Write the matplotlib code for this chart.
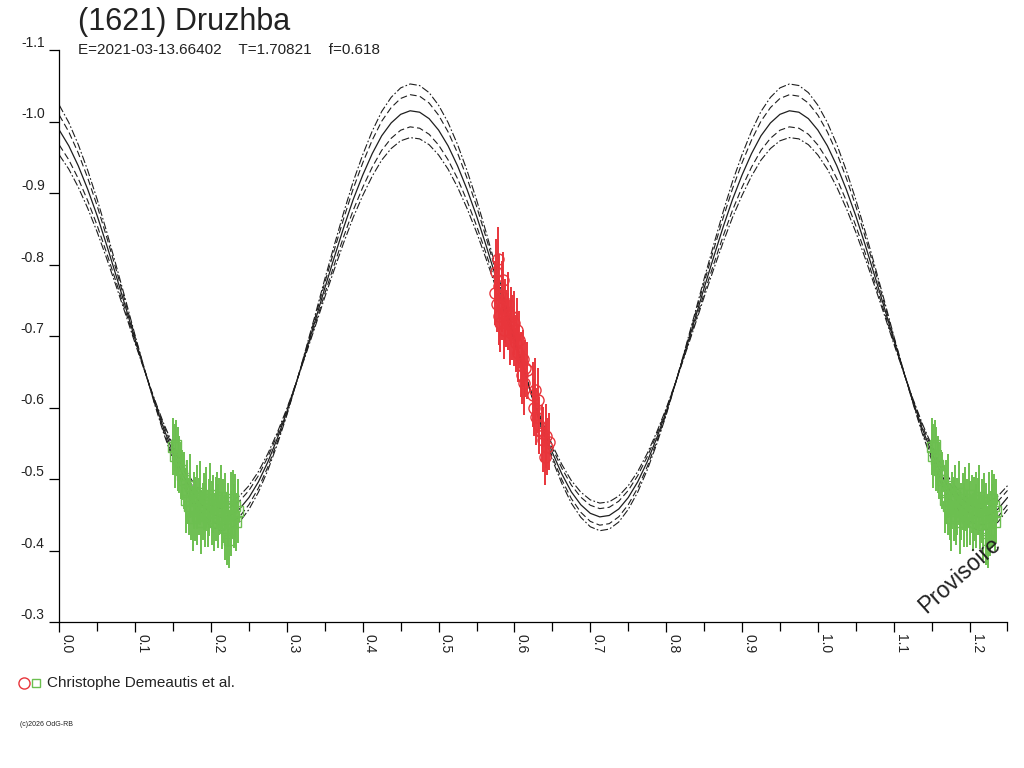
import matplotlib.pyplot as plt
import numpy as np
from matplotlib.lines import Line2D

plt.rcParams['font.family'] = ['Liberation Sans', 'DejaVu Sans']
plt.rcParams['axes.unicode_minus'] = False

# model lightcurve (solid), read every 0.0125 in phase from 0.0 to 1.0
model_phase = np.linspace(0.0, 1.0, 81)
model_mag = [-0.988, -0.966, -0.938, -0.905, -0.868, -0.827, -0.784, -0.740,
             -0.695, -0.652, -0.610, -0.571, -0.537, -0.507, -0.482, -0.464,
             -0.452, -0.447, -0.449, -0.458, -0.474, -0.496, -0.524, -0.557,
             -0.594, -0.635, -0.678, -0.722, -0.767, -0.810, -0.852, -0.891,
             -0.925, -0.955, -0.980, -0.998, -1.010, -1.015, -1.013, -1.004,
             -0.988, -0.966, -0.938, -0.905, -0.868, -0.827, -0.784, -0.740,
             -0.695, -0.652, -0.610, -0.571, -0.537, -0.507, -0.482, -0.464,
             -0.452, -0.447, -0.449, -0.458, -0.474, -0.496, -0.524, -0.557,
             -0.594, -0.635, -0.678, -0.722, -0.767, -0.810, -0.852, -0.891,
             -0.925, -0.955, -0.980, -0.998, -1.010, -1.015, -1.013, -1.004,
             -0.988]
# envelope curves: amplitude scale about a pivot magnitude
env_pivot = -0.64
env_scale = [1.10, 1.06, 0.94, 0.90]
env_style = ['dashdot', 'dashed', 'dashed', 'dashdot']

# green squares
g_phase = [0.150, 0.152, 0.154, 0.156, 0.158, 0.160, 0.162, 0.164, 0.167, 0.169,
           0.171, 0.172, 0.174, 0.176, 0.177, 0.179, 0.181, 0.182, 0.184, 0.186,
           0.187, 0.189, 0.191, 0.192, 0.194, 0.196, 0.197, 0.199, 0.201, 0.203,
           0.204, 0.206, 0.208, 0.209, 0.211, 0.213, 0.214, 0.216, 0.218, 0.219,
           0.221, 0.222, 0.224, 0.226, 0.227, 0.229, 0.230, 0.232, 0.233, 0.235]
g_mag = [-0.545, -0.532, -0.548, -0.528, -0.520, -0.512, -0.505, -0.498, -0.470, -0.482,
         -0.462, -0.490, -0.455, -0.445, -0.470, -0.458, -0.475, -0.448, -0.462, -0.480,
         -0.440, -0.455, -0.468, -0.450, -0.472, -0.445, -0.460, -0.478, -0.452, -0.465,
         -0.440, -0.458, -0.470, -0.448, -0.462, -0.475, -0.442, -0.455, -0.432, -0.468,
         -0.425, -0.450, -0.415, -0.460, -0.438, -0.472, -0.448, -0.462, -0.440, -0.455]
g_err = [0.040, 0.045, 0.035, 0.045, 0.040, 0.040, 0.035, 0.040, 0.045, 0.045,
         0.040, 0.045, 0.040, 0.045, 0.040, 0.045, 0.045, 0.040, 0.040, 0.045,
         0.045, 0.040, 0.040, 0.045, 0.045, 0.040, 0.040, 0.045, 0.045, 0.040,
         0.040, 0.045, 0.040, 0.045, 0.040, 0.045, 0.040, 0.045, 0.045, 0.040,
         0.045, 0.045, 0.040, 0.050, 0.045, 0.040, 0.045, 0.045, 0.040, 0.045]

# red circles
r_phase = [0.574, 0.576, 0.577, 0.578, 0.579, 0.580, 0.581, 0.583, 0.584, 0.585,
           0.586, 0.588, 0.589, 0.591, 0.592, 0.594, 0.595, 0.597, 0.599, 0.600,
           0.602, 0.603, 0.605, 0.606, 0.608, 0.610, 0.611, 0.612, 0.614, 0.616,
           0.624, 0.626, 0.627, 0.629, 0.631, 0.633, 0.636, 0.638, 0.640, 0.642,
           0.643, 0.645]
r_mag = [-0.760, -0.790, -0.745, -0.808, -0.728, -0.770, -0.718, -0.755, -0.740, -0.778,
         -0.708, -0.735, -0.725, -0.745, -0.720, -0.705, -0.728, -0.712, -0.698, -0.718,
         -0.690, -0.708, -0.676, -0.695, -0.660, -0.645, -0.668, -0.634, -0.655, -0.652,
         -0.618, -0.600, -0.624, -0.587, -0.610, -0.575, -0.564, -0.555, -0.531, -0.560,
         -0.545, -0.552]
r_err = [0.045, 0.045, 0.040, 0.045, 0.040, 0.045, 0.040, 0.050, 0.045, 0.040,
         0.040, 0.045, 0.040, 0.045, 0.040, 0.045, 0.040, 0.045, 0.040, 0.045,
         0.040, 0.045, 0.040, 0.040, 0.045, 0.040, 0.040, 0.045, 0.040, 0.040,
         0.045, 0.040, 0.045, 0.040, 0.045, 0.040, 0.040, 0.045, 0.040, 0.045,
         0.040, 0.040]

title = '(1621) Druzhba'
subtitle = 'E=2021-03-13.66402    T=1.70821    f=0.618'
observer = 'Christophe Demeautis et al.'

RED = '#e8353b'
GREEN = '#6cbf50'
INK = '#1e1e1e'

fig = plt.figure(figsize=(10.24, 7.68), dpi=100)
ax = fig.add_axes([59.3/1024, 146/768, 948.2/1024, 572/768])

# extend model to phase 1.25 (wrap)
mp = np.asarray(model_phase)
mm = np.asarray(model_mag)
wrap = mp[1:] <= 0.25 + 1e-9
xp = np.concatenate([mp, mp[1:][wrap] + 1.0])
ym = np.concatenate([mm, mm[1:][wrap]])

dash_map = {'dashed': (0, (6, 3)), 'dashdot': (0, (7, 2, 1.5, 2))}
for k, st in zip(env_scale, env_style):
    ax.plot(xp, env_pivot + k * (ym - env_pivot), color=INK, lw=0.8,
            linestyle=dash_map[st])
ax.plot(xp, ym, color=INK, lw=0.9)

def draw_points(ph, mag, err, color, marker, ms):
    ph = np.asarray(ph)
    mag = np.asarray(mag)
    err = np.asarray(err)
    sel = ph < 0.25
    x = np.concatenate([ph, ph[sel] + 1.0])
    y = np.concatenate([mag, mag[sel]])
    e = np.concatenate([err, err[sel]])
    ax.errorbar(x, y, yerr=e, fmt='none', ecolor=color, elinewidth=1.4, capsize=0)
    ax.plot(x, y, linestyle='none', marker=marker, ms=ms, mfc='none',
            mec=color, mew=1.0)

draw_points(g_phase, g_mag, g_err, GREEN, 's', 7)
draw_points(r_phase, r_mag, r_err, RED, 'o', 8)

ax.set_xlim(0, 1.25)
ax.set_ylim(-0.3, -1.1)
ax.spines['top'].set_visible(False)
ax.spines['right'].set_visible(False)
for s in ('left', 'bottom'):
    ax.spines[s].set_color('black')
    ax.spines[s].set_linewidth(0.9)

ax.set_xticks(np.arange(0, 1.21, 0.1))
ax.set_xticks(np.arange(0.05, 1.26, 0.1), minor=True)
ax.set_xticklabels(['%.1f' % v for v in np.arange(0, 1.21, 0.1)],
                   rotation=-90, ha='left', fontsize=10, color='#222222')
ax.tick_params(axis='x', which='major', length=7.5, width=0.9, pad=1.5)
ax.tick_params(axis='x', which='minor', length=6.5, width=0.9)

yt = np.round(np.arange(-1.1, -0.29, 0.1), 1)
ax.set_yticks(yt)
ax.set_yticklabels(['%.1f' % v for v in yt], fontsize=10, color='#222222')
ax.tick_params(axis='y', length=7.5, width=0.9, pad=3)
for lab in ax.get_yticklabels():
    lab.set_va('bottom')

ax.text(1.187, -0.365, 'Provisoire', rotation=42, fontsize=16.5, color='#222222',
        ha='center', va='center')

fig.text(78/1024, 1 - 30/768, title, fontsize=22, color='#222222',
         ha='left', va='baseline')
fig.text(78/1024, 1 - 54/768, subtitle, fontsize=11, color='#222222',
         ha='left', va='baseline')

fig.add_artist(Line2D([24/1024], [1 - 683/768], marker='o', ms=8, mfc='none',
                      mec=RED, mew=1.0, linestyle='none'))
fig.add_artist(Line2D([36/1024], [1 - 683/768], marker='s', ms=6, mfc='none',
                      mec=GREEN, mew=1.0, linestyle='none'))
fig.text(47/1024, 1 - 683/768, observer, fontsize=11, color='#222222',
         ha='left', va='center')
fig.text(20/1024, 1 - 724/768, '(c)2026 OdG-RB', fontsize=5, color='#222222',
         ha='left', va='center')

fig.savefig('out.png', dpi=100)
